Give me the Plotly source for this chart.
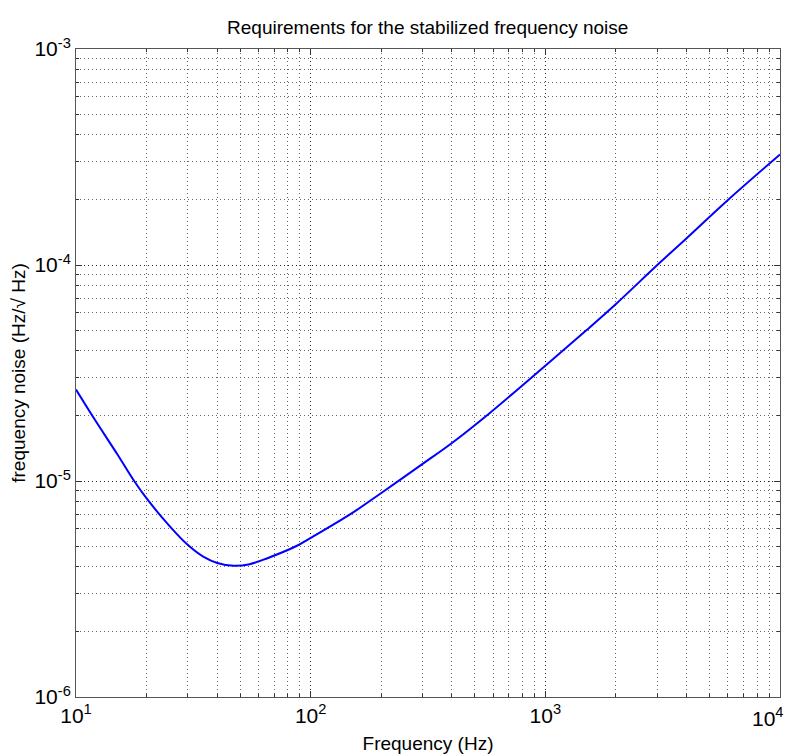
import plotly.graph_objects as go

# Frequency (Hz) and stabilized frequency noise requirement (Hz/sqrt(Hz))
freq = [10, 12, 15, 17.7, 20, 25, 30, 35, 40, 47, 55, 65, 87, 100, 150, 200, 300, 400,
        575, 1000, 1500, 2000, 3000, 4000, 6000, 10000]
noise = [2.65e-5, 1.93e-5, 1.33e-5, 1.0e-5, 8.3e-6, 6.2e-6, 5.05e-6, 4.45e-6, 4.17e-6,
         4.05e-6, 4.12e-6, 4.38e-6, 5.0e-6, 5.45e-6, 7.1e-6, 8.8e-6, 1.2e-5, 1.5e-5,
         2.05e-5, 3.42e-5, 5.0e-5, 6.6e-5, 1.0e-4, 1.33e-4, 2.0e-4, 3.25e-4]

x_ticks = [10, 100, 1000, 10000]
x_ticktext = ["10<sup>1</sup>", "10<sup>2</sup>", "10<sup>3</sup>", ""]
x_last_label = "10<sup>4</sup>"
y_ticks = [1e-6, 1e-5, 1e-4, 1e-3]
y_ticktext = ["10<sup>-6</sup>", "10<sup>-5</sup>", "10<sup>-4</sup>", "10<sup>-3</sup>"]
x_minor = [m * 10 ** k for k in range(1, 4) for m in range(2, 10)]
y_minor = [m * 10.0 ** k for k in range(-6, -3) for m in range(2, 10)]

font = "Liberation Sans, Arial, sans-serif"
dots = "1px,3px"

fig = go.Figure(go.Scatter(x=freq, y=noise, mode="lines",
                           line=dict(color="#0000ff", width=2, shape="spline", smoothing=1.0)))

axis_common = dict(
    type="log", showline=True, linecolor="#555555", linewidth=1, mirror="ticks",
    ticks="inside", ticklen=6, tickcolor="#333333", automargin=False,
    showgrid=True, gridcolor="#222222", griddash=dots, gridwidth=1,
    zeroline=False, tickfont=dict(family=font, size=21, color="black"),
)
minor_common = dict(tickmode="array", ticks="inside", ticklen=3, tickcolor="#333333",
                    showgrid=True, gridcolor="#666666", griddash=dots, gridwidth=1)

fig.update_xaxes(**axis_common, range=[1, 4], tickmode="array", tickvals=x_ticks,
                 ticktext=x_ticktext, minor=dict(**minor_common, tickvals=x_minor),
                 title=dict(text="Frequency (Hz)", font=dict(family=font, size=19, color="black"),
                            standoff=10))
fig.update_yaxes(**axis_common, range=[-6, -3], tickmode="array", tickvals=y_ticks,
                 ticktext=y_ticktext, minor=dict(**minor_common, tickvals=y_minor),
                 title=dict(text="frequency noise (Hz/√ Hz)",
                            font=dict(family=font, size=19, color="black"), standoff=4))

# last x tick label, right-aligned so it stays inside the page
fig.add_annotation(text=x_last_label, xref="paper", yref="paper", x=1, y=0,
                   xanchor="right", yanchor="top", xshift=6, yshift=-5, showarrow=False,
                   font=dict(family=font, size=21, color="black"))

fig.update_layout(
    width=786, height=747,
    margin=dict(l=68, r=14, t=41, b=58),
    paper_bgcolor="white", plot_bgcolor="white",
    showlegend=False,
    title=dict(text="Requirements for the stabilized frequency noise",
               font=dict(family=font, size=19, color="black"),
               x=0.534, xanchor="center", y=0.9746, yanchor="middle"),
)

fig.write_html("out.html")
